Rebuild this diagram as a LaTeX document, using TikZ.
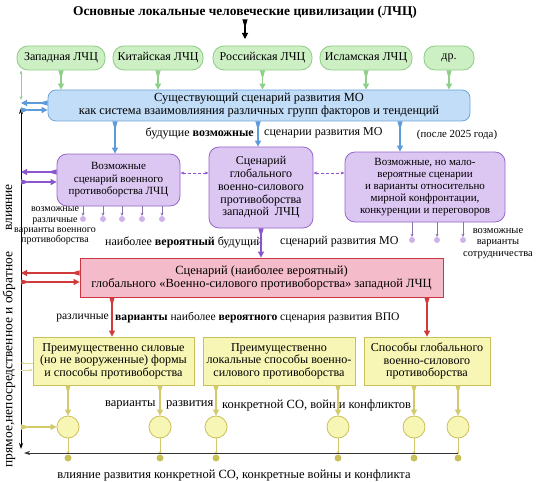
\documentclass[tikz,border=0pt]{standalone}
\usepackage{fontspec}
\setmainfont{Liberation Serif}
\usepackage{xcolor}
\usetikzlibrary{positioning, shapes, arrows.meta, calc}

\definecolor{grF}{HTML}{CDEFC4}
\definecolor{grD}{HTML}{8CCB83}
\definecolor{grA}{HTML}{8ED08A}
\definecolor{blF}{HTML}{C2DDF7}
\definecolor{blD}{HTML}{6FA5DC}
\definecolor{blA}{HTML}{5E9BDB}
\definecolor{puF}{HTML}{DCC6F2}
\definecolor{puD}{HTML}{9567C7}
\definecolor{puA}{HTML}{8B55D0}
\definecolor{reF}{HTML}{F4BCCB}
\definecolor{reD}{HTML}{CC3440}
\definecolor{reA}{HTML}{D03A3A}
\definecolor{yeF}{HTML}{F8F6B4}
\definecolor{yeD}{HTML}{C9C05A}
\definecolor{yeA}{HTML}{D2CA68}

\begin{document}
\begin{tikzpicture}[x=1pt, y=-1pt,
          txt/.style={font=\fontsize{12}{13}\selectfont, inner sep=0pt},
          sml/.style={font=\fontsize{10}{10.4}\selectfont, inner sep=0pt, align=center},
          lch/.style={draw=grD, fill=grF, rounded corners=11pt, minimum height=24pt, inner sep=0pt, line width=0.8pt, font=\fontsize{12}{13}\selectfont},
          bbox/.style={draw=#1, align=center, inner sep=0pt, line width=0.8pt, font=\fontsize{12}{12.8}\selectfont},
          crc/.style={circle, draw=yeD, fill=yeF, minimum size=22pt, inner sep=0pt, line width=0.8pt},
          ydot/.style={circle, fill=yeD, minimum size=7pt, inner sep=0pt},
          pdot/.style={circle, fill=puF!80!puD, minimum size=6pt, inner sep=0pt},
          wdg/.style={draw=#1, line width=1.1pt, {Triangle[reversed, length=9pt, width=5pt]}-{Triangle[length=6pt, width=6pt]}},
          tk/.style={draw=#1, line width=0.6pt, -{Stealth[length=3pt, width=3pt]}},
          dsh/.style={draw=puA, densely dashed, line width=0.8pt, {Stealth[length=4pt]}-{Stealth[length=4pt]}},
        ]
        \useasboundingbox (0,0) rectangle (537,481);
        % title
        \node[font=\bfseries\fontsize{13.4}{15}\selectfont, inner sep=1pt] (ttl) at (245,12) {Основные локальные человеческие цивилизации (ЛЧЦ)};
        \coordinate (ttlend) at (245,39);
        \draw[wdg=black] (ttl.south -| ttlend) -- (ttlend);
        % civilisations
        \node[lch, minimum width=88pt] (zap) at (61,58) {Западная ЛЧЦ};
        \node[lch, minimum width=90pt] (kit) at (158,58) {Китайская ЛЧЦ};
        \node[lch, minimum width=99pt] (ros) at (262.5,58) {Российская ЛЧЦ};
        \node[lch, minimum width=92pt] (isl) at (366,58) {Исламская ЛЧЦ};
        \node[lch, minimum width=50pt] (dr) at (449,58) {др.};
        % current scenario
        \node[bbox=blD, fill=blF, rounded corners=8pt, minimum width=422pt, minimum height=31pt, font=\fontsize{12.4}{13}\selectfont] (mo) at (259,105.5) {Существующий сценарий развития МО\\как система взаимовлияния различных групп факторов и тенденций};
        \draw[wdg=grA] (zap.south) -- (zap.south |- mo.north);
        \draw[wdg=grA] (kit.south) -- (kit.south |- mo.north);
        \draw[wdg=grA] (ros.south) -- (ros.south |- mo.north);
        \draw[wdg=grA] (isl.south) -- (isl.south |- mo.north);
        \draw[wdg=grA] (dr.south) -- (dr.south |- mo.north);
        % possible scenarios
        \node[txt, anchor=east] (fut1) at (254,133) {будущие \textbf{возможные}};
        \node[txt, anchor=west] (fut2) at (264,133) {сценарии развития МО};
        \node[txt, font=\fontsize{10.8}{12}\selectfont] (aft) at (457,135) {(после 2025 года)};
        \node[bbox=puD, fill=puF, rounded corners=10pt, minimum width=123pt, minimum height=52pt, font=\fontsize{11}{12.5}\selectfont] (pv) at (118.5,180) {Возможные\\сценарий военного\\противоборства ЛЧЦ};
        \node[bbox=puD, fill=puF, rounded corners=10pt, minimum width=104pt, minimum height=81pt] (pg) at (261,187.5) {Сценарий\\глобального\\военно-силового\\противоборства\\западной\ \ ЛЧЦ};
        \node[bbox=puD, fill=puF, rounded corners=10pt, minimum width=160pt, minimum height=70pt, font=\fontsize{11}{11.8}\selectfont] (pm) at (425,187) {Возможные, но мало-\\вероятные сценарии\\и варианты относительно\\мирной конфронтации,\\конкуренции и переговоров};
        \draw[wdg=blA] ([xshift=-3.5pt]pv.north |- mo.south) -- ([xshift=-3.5pt]pv.north);
        \draw[wdg=blA] ([xshift=-3pt]pg.north |- mo.south) -- ([xshift=-3pt]pg.north);
        \draw[wdg=blA] ([xshift=-25pt]pm.north |- mo.south) -- ([xshift=-25pt]pm.north);
        \draw[dsh] (pv.east |- 0,173) -- (pg.west |- 0,173);
        \draw[dsh] (pg.east |- 0,173) -- (pm.west |- 0,173);
        % variants of confrontation
        \node[pdot] (p1) at (83,219) {};
        \node[pdot] (p2) at (103,219) {};
        \node[pdot] (p3) at (122,219) {};
        \node[pdot] (p4) at (142,219) {};
        \node[pdot] (p5) at (162,219) {};
        \draw[tk=puD!60!gray] (pv.south -| p1) -- (p1.north);
        \draw[tk=puD!60!gray] (pv.south -| p2) -- (p2.north);
        \draw[tk=puD!60!gray] (pv.south -| p3) -- (p3.north);
        \draw[tk=puD!60!gray] (pv.south -| p4) -- (p4.north);
        \draw[tk=puD!60!gray] (pv.south -| p5) -- (p5.north);
        \node[sml] (pvar) at (55,226) {возможные\\различные\\варианты военного\\противоборства};
        \node[pdot] (q1) at (412,240) {};
        \node[pdot] (q2) at (437,240) {};
        \node[pdot] (q3) at (463,240) {};
        \draw[tk=puD!60!gray] (pm.south -| q1) -- (q1.north);
        \draw[tk=puD!60!gray] (pm.south -| q2) -- (q2.north);
        \draw[tk=puD!60!gray] (pm.south -| q3) -- (q3.north);
        \node[sml, font=\fontsize{10.5}{11.5}\selectfont] (qvar) at (498,243.5) {возможные\\варианты\\сотрудничества};
        % most probable scenario
        \node[txt, anchor=west] (prob1) at (105,242) {наиболее \textbf{вероятный} будущий};
        \node[txt, anchor=west] (prob2) at (280,242) {сценарий развития МО};
        \node[bbox=reD, fill=reF, minimum width=363pt, minimum height=39pt, font=\fontsize{12.5}{13}\selectfont] (rs) at (261.5,277.5) {Сценарий (наиболее вероятный)\\глобального «Военно-силового противоборства» западной ЛЧЦ};
        \draw[wdg=puA] (pg.south) -- (pg.south |- rs.north);
        % forms and ways
        \node[txt, anchor=east, font=\fontsize{11.6}{13}\selectfont] (vr1) at (109,318) {различные};
        \node[txt, anchor=west, font=\fontsize{11.6}{13}\selectfont] (vr2) at (115,318) {\textbf{варианты} наиболее \textbf{вероятного} сценария развития ВПО};
        \node[bbox=yeD, fill=yeF, minimum width=161pt, minimum height=48pt, font=\fontsize{12.1}{12.6}\selectfont] (y1) at (113.5,361) {Преимущественно силовые\\(но не вооруженные) формы\\и способы противоборства};
        \node[bbox=yeD, fill=yeF, minimum width=152pt, minimum height=48pt, font=\fontsize{12.1}{12.6}\selectfont] (y2) at (279,361) {Преимущественно\\локальные способы военно-\\силового противоборства};
        \node[bbox=yeD, fill=yeF, minimum width=126pt, minimum height=48pt, font=\fontsize{12.1}{12.6}\selectfont] (y3) at (427,361) {Способы глобального\\военно-силового\\противоборства};
        \draw[wdg=reA] ([xshift=-1.5pt]rs.south -| y1.north) -- ([xshift=-1.5pt]y1.north);
        \draw[wdg=reA] (rs.south -| y3.north) -- (y3.north);
        % concrete conflicts
        \node[crc] (c1) at (68,427) {};
        \node[crc] (c2) at (160,427) {};
        \node[crc] (c3) at (216,427) {};
        \node[crc] (c4) at (338,427) {};
        \node[crc] (c5) at (414,427) {};
        \node[crc] (c6) at (458,427) {};
        \draw[wdg=yeA] (y1.south -| c1) -- (c1.north);
        \draw[wdg=yeA] (y1.south -| c2) -- (c2.north);
        \draw[wdg=yeA] (y2.south -| c3) -- (c3.north);
        \draw[wdg=yeA] (y2.south -| c4) -- (c4.north);
        \draw[wdg=yeA] (y3.south -| c5) -- (c5.north);
        \draw[wdg=yeA] (y3.south -| c6) -- (c6.north);
        \node[txt, anchor=west, font=\fontsize{12.5}{13}\selectfont] (cv1) at (105,405) {варианты};
        \node[txt, anchor=west, font=\fontsize{12.5}{13}\selectfont] (cv2) at (166,405) {развития};
        \node[txt, anchor=west, font=\fontsize{12.5}{13}\selectfont] (cv3) at (222,405) {конкретной СО, войн и конфликтов};
        \node[ydot] (d1) at (68,458) {};
        \node[ydot] (d2) at (160,458) {};
        \node[ydot] (d3) at (216,458) {};
        \node[ydot] (d4) at (338,458) {};
        \node[ydot] (d5) at (414,458) {};
        \node[ydot] (d6) at (458,458) {};
        \draw[tk=yeA] (c1.south) -- (d1.north);
        \draw[tk=yeA] (c2.south) -- (d2.north);
        \draw[tk=yeA] (c3.south) -- (d3.north);
        \draw[tk=yeA] (c4.south) -- (d4.north);
        \draw[tk=yeA] (c5.south) -- (d5.north);
        \draw[tk=yeA] (c6.south) -- (d6.north);
        \coordinate (hend) at (24,453);
        \draw[black!80, line width=0.9pt, -{Stealth[length=6pt, width=4pt]}] (d6.north |- hend) -- (hend);
        \node[txt, font=\fontsize{12.5}{13}\selectfont] (infl) at (234,475) {влияние развития конкретной СО, конкретные войны и конфликта};
        % feedback on the left
        \coordinate (vtop) at (21,108);
        \coordinate (vbot) at (21,449);
        \draw[black, line width=0.9pt, {Stealth[length=6pt, width=4pt]}-{Stealth[length=6pt, width=4pt]}] (vbot) -- (vtop);
        \node[rotate=90, font=\fontsize{13.5}{14}\selectfont, inner sep=0pt] (vlab1) at (9,359.5) {прямое,непосредственное и обратное};
        \node[rotate=90, font=\fontsize{13.5}{14}\selectfont, inner sep=0pt] (vlab2) at (9,207.5) {влияние};
        \coordinate (lg) at (21,100);
        \draw[grA, line width=0.8pt, {Stealth[length=4pt]}-{Stealth[length=4pt]}] (zap.south -| lg) -- (lg);
        \coordinate (lb1) at (21,103);
        \coordinate (lb2) at (21,110);
        \draw[wdg=blA] (mo.west |- lb1) -- (lb1);
        \draw[wdg=blA] (lb2) -- (mo.west |- lb2);
        \coordinate (lp1) at (21,172);
        \coordinate (lp2) at (21,182);
        \draw[wdg=puA] (pv.west |- lp1) -- (lp1);
        \draw[wdg=puA] (lp2) -- (pv.west |- lp2);
        \coordinate (lr1) at (21,273);
        \coordinate (lr2) at (21,282);
        \draw[wdg=reA] (rs.west |- lr1) -- (lr1);
        \draw[wdg=reA] (lr2) -- (rs.west |- lr2);
        \coordinate (ly1) at (21,363);
        \coordinate (ly2) at (21,370);
        \draw[tk=yeA!70] (y1.west |- ly1) -- (ly1);
        \draw[tk=yeA!70] (ly2) -- (y1.west |- ly2);
        \coordinate (lc) at (21,427);
        \draw[wdg=yeA] (lc) -- (c1.west);
        \end{tikzpicture}
\end{document}
